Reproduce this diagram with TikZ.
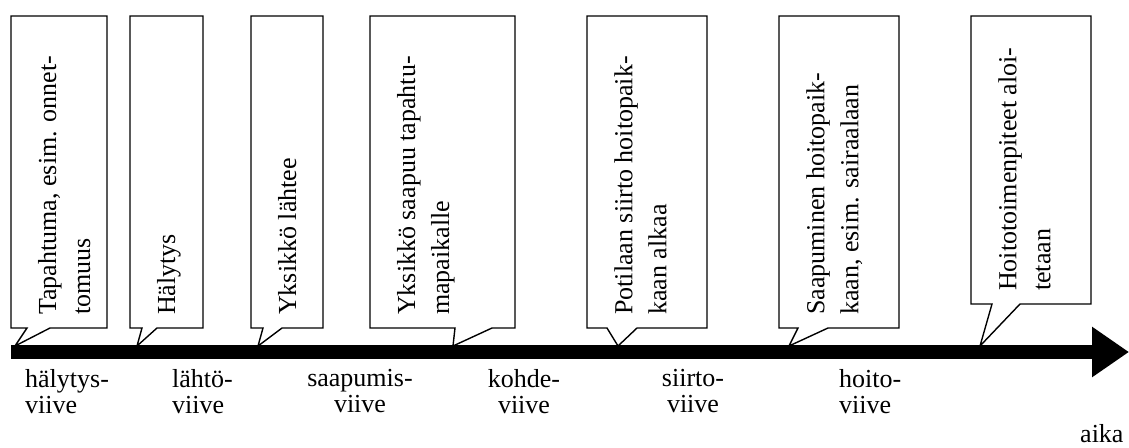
\documentclass[tikz,border=0pt]{standalone}
\usepackage{fontspec}
\setmainfont{Liberation Serif}
\usetikzlibrary{arrows.meta, positioning}

\begin{document}
\begin{tikzpicture}[x=1pt, y=-1pt]
\tikzstyle{event} = [rotate=90, anchor=north west, inner sep=0pt, align=left, font=\fontsize{26}{34}\selectfont]
\tikzstyle{delay} = [inner sep=0pt, font=\fontsize{26}{26.5}\selectfont]
\tikzstyle{callout} = [draw=black, line width=1.4pt, fill=white, line join=miter]
\tikzstyle{timeline} = [line width=14pt, -{Triangle[length=37pt, width=48pt]}]

\path[use as bounding box, fill=white] (0,0) rectangle (1129,447);

% Callout boxes pointing at the time axis
\foreach \xa/\xb/\yb/\pa/\pc/\pb in {11/107/328/27/15/50, 130/203/328/142/137/157, 251/323/328/263/258/282, 370/515/328/455/453/492, 587/707/328/607/618/637, 779/899/328/798/789/828, 971/1091/304/992/980/1020} {
    \draw[callout] (\xa,16) -- (\xb,16) -- (\xb,\yb) -- (\pb,\yb) -- (\pc,346) -- (\pa,\yb) -- (\xa,\yb) -- cycle;
}

% Time axis
\coordinate (t0) at (11,352);
\coordinate (t1) at (1129,352);
\draw[timeline] (t0) -- (t1);

% Events
\node[event] (ev1) at (38,315) {Tapahtuma, esim. onnet-\\tomuus};
\node[event] (ev2) at (157,315) {Hälytys};
\node[event] (ev3) at (278,315) {Yksikkö lähtee};
\node[event] (ev4) at (397,315) {Yksikkö saapuu tapahtu-\\mapaikalle};
\node[event] (ev5) at (614,315) {Potilaan siirto hoitopaik-\\kaan alkaa};
\node[event] (ev6) at (806,315) {Saapuminen hoitopaik-\\kaan, esim. sairaalaan};
\node[event] (ev7) at (998,291) {Hoitotoimenpiteet aloi-\\tetaan};

% Delays below the axis
\node[delay, anchor=north west, align=left] (del1) at (25,369) {hälytys-\\viive};
\node[delay, anchor=north west, align=left] (del2) at (172,369) {lähtö-\\viive};
\node[delay, anchor=north, align=center] (del3) at (360,369) {saapumis-\\viive};
\node[delay, anchor=north, align=center] (del4) at (524,369) {kohde-\\viive};
\node[delay, anchor=north, align=center] (del5) at (693,369) {siirto-\\viive};
\node[delay, anchor=north west, align=left] (del6) at (839,369) {hoito-\\viive};
\node[delay, anchor=base west] (aika) at (1080,442) {aika};

\end{tikzpicture}
\end{document}
